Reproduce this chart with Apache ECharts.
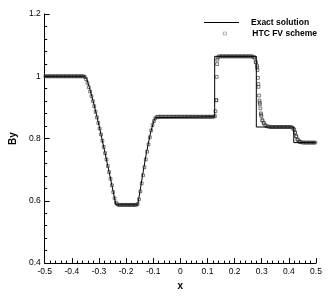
<!DOCTYPE html>
<html><head><meta charset="utf-8">
<script src="https://cdn.jsdelivr.net/npm/echarts@6/dist/echarts.min.js"></script>
<style>html,body{margin:0;padding:0;background:#fff}#c{width:332px;height:296px}</style>
</head><body><div id="c"></div>
<script>
// Exact solution (x, By)
const exactX  = [-0.5, -0.3516, -0.345, -0.335, -0.32, -0.30, -0.28, -0.26, -0.2375, -0.157, -0.14, -0.125, -0.11, -0.10, -0.093, -0.088, 0.1265, 0.1265, 0.28, 0.28, 0.418, 0.418, 0.5];
const exactBy = [1.0, 1.0, 0.99, 0.963, 0.915, 0.843, 0.763, 0.682, 0.587, 0.587, 0.678, 0.755, 0.818, 0.850, 0.867, 0.87, 0.87, 1.064, 1.064, 0.837, 0.837, 0.787, 0.787];

// HTC FV scheme: cell values on a uniform grid (cell centres from -0.4975, step 0.005)
const htcStart = -0.4975, htcStep = 0.005;
const htcBy = [
  1,1,1,1,1,1,1,1,1,1, 1,1,1,1,1,1,1,1,1,1, 1,1,1,1,1,1,1,1,1,
  0.998,0.991,0.979,0.965,0.951,0.936,0.92,0.904,0.886,0.868,0.850,0.832,0.813,0.793,0.773,0.753,0.733,0.712,0.692,0.671,0.650,0.628,0.608,0.594,
  0.589,
  0.587,0.587,0.587,0.587,0.587,0.587,0.587,0.587,0.587,0.587,0.587,0.587,0.587,0.587,
  0.590,0.605,0.630,0.656,0.682,0.708,0.733,0.758,0.781,0.804,0.826,0.843,0.856,0.865,0.869,
  0.87,0.87,0.87,0.87,0.87,0.87,0.87,0.87,0.87,0.87, 0.87,0.87,0.87,0.87,0.87,0.87,0.87,0.87,0.87,0.87,
  0.87,0.87,0.87,0.87,0.87,0.87,0.87,0.87,0.87,0.87, 0.87,0.87,0.87,0.87,0.87,0.87,0.87,0.87,0.87,0.87, 0.87,0.87,
  0.872,0.923,1.06,1.064,
  1.064,1.064,1.064,1.064,1.064,1.064,1.064,1.064,1.064,1.064,1.064,1.064, 1.064,1.064,1.064,1.064,1.064,1.064,1.064,1.064,1.064,1.064,1.064,1.064,
  1.063,1.06,1.046,1.028,0.975,0.915,0.877,0.858,0.849,0.843,0.840,0.839,0.838,
  0.837,0.837,0.837,0.837,0.837,0.837,0.837,0.837,0.837,0.837,0.837,0.837,0.837,0.837,0.837,0.837,
  0.835,0.831,0.82,0.806,0.796,0.791,0.789,0.788,
  0.787,0.787,0.787,0.787,0.787,0.787,0.787,0.787,0.787,0.787
];
// Extra markers visible inside the smeared discontinuities
const contactX  = [0.129, 0.1325, 0.134, 0.1355, 0.1365];
const contactBy = [0.888, 0.923, 0.998, 1.039, 1.053];
const shockX  = [0.2728, 0.2785, 0.2827, 0.2845, 0.2862, 0.288, 0.2898, 0.2915, 0.2933, 0.295, 0.2968, 0.2986, 0.302, 0.3074];
const shockBy = [1.060, 1.044, 1.034, 1.020, 0.995, 0.966, 0.938, 0.922, 0.910, 0.897, 0.881, 0.872, 0.859, 0.850];
const stepX  = [0.4198, 0.4233, 0.4269, 0.4318, 0.4389];
const stepBy = [0.8285, 0.818, 0.808, 0.797, 0.790];

const seriesNames = ['Exact solution', 'HTC FV scheme'];

const exactData = exactX.map((x, i) => [x, exactBy[i]]);
const htcData = htcBy.map((v, i) => [+(htcStart + i * htcStep).toFixed(4), v])
  .concat(contactX.map((x, i) => [x, contactBy[i]]))
  .concat(shockX.map((x, i) => [x, shockBy[i]]))
  .concat(stepX.map((x, i) => [x, stepBy[i]]));

const FONT = '"Liberation Sans", Arial, sans-serif';
const axisCommon = {
  axisLine: {onZero: false, lineStyle: {color: '#000', width: 1}},
  axisTick: {inside: true, length: 5, lineStyle: {color: '#000', width: 1}},
  minorTick: {show: true, splitNumber: 5, length: 2.5, lineStyle: {color: '#000', width: 1}},
  splitLine: {show: false},
  axisLabel: {color: '#000', fontSize: 8.5, fontFamily: FONT, margin: 4}
};
const legendText = {fontSize: 8.5, fontWeight: 'bold', color: '#000', fontFamily: FONT, lineHeight: 10};

const chart = echarts.init(document.getElementById('c'), null, {renderer: 'canvas'});
chart.setOption({
  animation: false,
  grid: {left: 33, right: 16, top: 14, bottom: 29},
  legend: [
    {left: 204, top: 17.5, itemWidth: 35, itemHeight: 1, padding: 0,
     textStyle: Object.assign({padding: [0, 0, 0, 7]}, legendText),
     data: [{name: seriesNames[0], icon: 'rect', itemStyle: {color: '#000', borderWidth: 0}}]},
    {left: 223, top: 28.5, itemWidth: 3, itemHeight: 3, padding: 0,
     textStyle: Object.assign({padding: [0, 0, 0, 21]}, legendText),
     data: [{name: seriesNames[1], icon: 'rect', itemStyle: {color: 'rgba(255,255,255,0)', borderColor: '#777', borderWidth: 0.7}}]}
  ],
  xAxis: Object.assign({
    type: 'value', min: -0.5, max: 0.5, interval: 0.1,
    name: 'x', nameLocation: 'middle', nameGap: 11,
    nameTextStyle: {fontWeight: 'bold', fontSize: 10, color: '#000', fontFamily: FONT}
  }, axisCommon),
  yAxis: Object.assign({
    type: 'value', min: 0.4, max: 1.2, interval: 0.2,
    name: 'By', nameLocation: 'middle', nameGap: 19, nameRotate: 90,
    nameTextStyle: {fontWeight: 'bold', fontSize: 10, color: '#000', fontFamily: FONT}
  }, axisCommon),
  series: [
    {name: seriesNames[0], type: 'line', data: exactData, symbol: 'none', z: 3,
     lineStyle: {color: '#000', width: 1}, itemStyle: {color: '#000'}},
    {name: seriesNames[1], type: 'scatter', data: htcData, symbol: 'rect', symbolSize: 2.8, z: 2,
     itemStyle: {color: 'rgba(255,255,255,0)', borderColor: '#333', borderWidth: 0.8}}
  ]
});
</script></body></html>
